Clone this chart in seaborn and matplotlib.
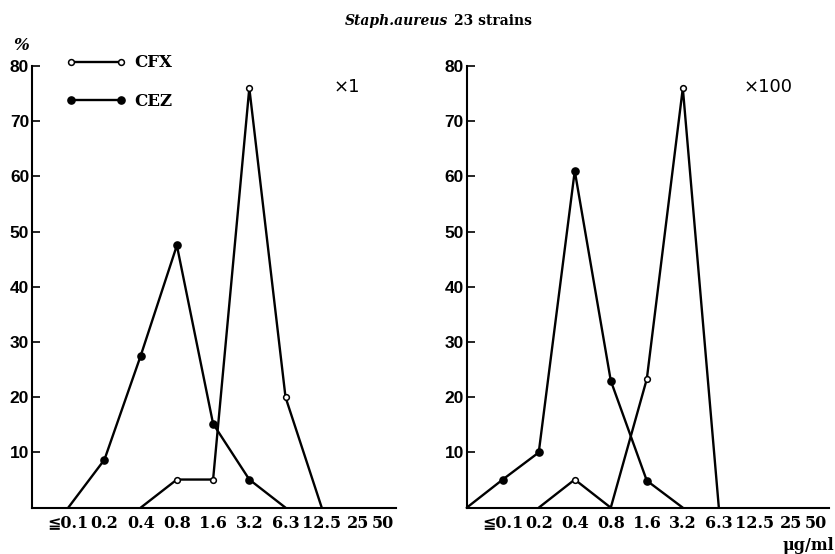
import numpy as np
import pandas as pd
import matplotlib
matplotlib.use("Agg")
import matplotlib.pyplot as plt
import seaborn as sns
from matplotlib.lines import Line2D

# MIC levels (first slot is the empty position at the y axis)
levels = ["", "≦0.1", "0.2", "0.4", "0.8", "1.6", "3.2", "6.3", "12.5", "25", "50"]

nan = np.nan
# % of strains, inoculum x1
cfx_x1 = [nan, nan, nan, 0, 5.1, 5.1, 76, 20, 0, nan, nan]
cez_x1 = [nan, 0, 8.7, 27.5, 47.5, 15.2, 5.1, 0, nan, nan, nan]
# % of strains, inoculum x100
cfx_x100 = [nan, nan, 0, 5.1, 0, 23.3, 76, 0, nan, nan, nan]
cez_x100 = [0, 5.1, 10, 61, 23, 4.9, 0, nan, nan, nan, nan]

panels = [("×1", cfx_x1, cez_x1), ("×100", cfx_x100, cez_x100)]

sns.set_style("white")
plt.rcParams["font.family"] = ["DejaVu Serif", "DejaVu Sans"]
plt.rcParams["text.color"] = "black"
plt.rcParams["xtick.color"] = "black"
plt.rcParams["ytick.color"] = "black"

fig = plt.figure(figsize=(8.35, 5.54), dpi=100)
W, H = 835, 554
axes = [fig.add_axes([32 / W, 1 - 507.7 / H, 364 / W, 441.7 / H]),
        fig.add_axes([466.7 / W, 1 - 507.7 / H, 362 / W, 441.7 / H])]

for ax, (tag, cfx, cez) in zip(axes, panels):
    df = pd.DataFrame({"pos": np.arange(len(levels)), "CFX": cfx, "CEZ": cez})
    for name, face, ms in [("CEZ", "black", 26), ("CFX", "white", 17)]:
        sub = df[["pos", name]].dropna()
        sns.lineplot(data=sub, x="pos", y=name, ax=ax, color="black", lw=1.7,
                     clip_on=False, zorder=3)
        pts = sub[sub[name] > 0]
        sns.scatterplot(data=pts, x="pos", y=name, ax=ax, s=ms, color=face,
                        edgecolor="black", linewidth=1.1, clip_on=False, zorder=4)
    ax.set_xlim(0, 10.05)
    ax.set_ylim(0, 80)
    ax.set_xticks(range(len(levels)))
    ax.set_xticklabels(levels, fontsize=11.5, fontweight="bold")
    ax.get_xticklabels()[-1].set_ha("right")
    ax.set_yticks(range(10, 90, 10))
    ax.set_yticklabels([str(v) for v in range(10, 90, 10)], fontsize=12.5,
                       fontweight="bold", family="Liberation Sans")
    ax.tick_params(axis="x", length=0, pad=5)
    ax.tick_params(axis="y", direction="in", length=6, width=1.2, pad=2, left=True)
    ax.set_xlabel("")
    ax.set_ylabel("")
    sns.despine(ax=ax)
    for s in ["left", "bottom"]:
        ax.spines[s].set_linewidth(1.5)
        ax.spines[s].set_color("black")
    ax.text(0.90, 0.952, tag, transform=ax.transAxes,
            fontsize=13, ha="right", va="center", family="DejaVu Sans")

# legend in left panel
handles = [Line2D([0], [0], color="black", lw=1.7, marker="o", ms=4.2,
                  mfc="white", mec="black", mew=1.1),
           Line2D([0], [0], color="black", lw=1.7, marker="o", ms=5.2,
                  mfc="black", mec="black")]
axes[0].legend(handles, ["CFX", "CEZ"], numpoints=2, handlelength=3.6,
               handletextpad=0.5, labelspacing=1.3, frameon=False,
               loc="upper left", bbox_to_anchor=(0.07, 1.045), borderpad=0,
               prop={"family": "DejaVu Serif", "weight": "bold", "size": 12})

fig.text(448 / W, 1 - 21 / H, "Staph.aureus", ha="right", va="center",
         fontsize=10, fontweight="bold", fontstyle="italic")
fig.text(454 / W, 1 - 21 / H, "23 strains", ha="left", va="center",
         fontsize=10, fontweight="bold")
fig.text(21 / W, 1 - 45 / H, "%", ha="center", va="center", fontsize=12,
         fontstyle="italic", fontweight="bold")
fig.text(834 / W, 1 - 546 / H, "μg/ml", ha="right", va="center", fontsize=11.5,
         fontweight="bold")

fig.savefig("out.png", dpi=100)
